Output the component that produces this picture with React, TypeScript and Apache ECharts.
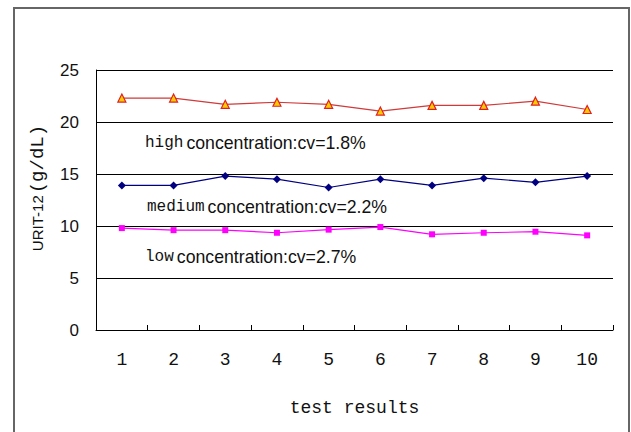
import React, { useEffect, useRef } from "react";
import * as echarts from "echarts";

const categories = ["1", "2", "3", "4", "5", "6", "7", "8", "9", "10"];
const highValues = [22.3, 22.3, 21.7, 21.9, 21.7, 21.05, 21.6, 21.6, 22.0, 21.2];
const mediumValues = [13.9, 13.9, 14.8, 14.5, 13.7, 14.5, 13.9, 14.6, 14.2, 14.8];
const lowValues = [9.8, 9.6, 9.6, 9.35, 9.65, 9.9, 9.2, 9.35, 9.45, 9.1];
const annotations = [
  { key: "high", text: "concentration:cv=1.8%" },
  { key: "medium", text: "concentration:cv=2.2%" },
  { key: "low", text: "concentration:cv=2.7%" },
];
const yAxisName = ["URIT-12", "(g/dL)"];
const xAxisName = "test results";

export default function App() {
  const ref = useRef<HTMLDivElement>(null);
  useEffect(() => {
    if (!ref.current) return;
    const chart = echarts.init(ref.current, null, { renderer: "svg" });
    const annPos = [
      { x: 145, y: 142.5 },
      { x: 147, y: 206.5 },
      { x: 145, y: 257 },
    ];
    const option: any = {
      animation: false,
      backgroundColor: "#ffffff",
      grid: { left: 96, right: 18, top: 70, bottom: 102 },
      xAxis: {
        type: "category",
        data: categories,
        boundaryGap: true,
        name: xAxisName,
        nameLocation: "middle",
        nameGap: 69,
        nameTextStyle: { fontFamily: "Liberation Mono", fontSize: 18, color: "#111" },
        axisLine: { lineStyle: { color: "#000", width: 1 } },
        axisTick: { show: true, inside: true, length: 5, lineStyle: { color: "#000" } },
        axisLabel: { fontFamily: "Liberation Mono", fontSize: 18, color: "#111", margin: 21 },
        splitLine: { show: false },
      },
      yAxis: {
        type: "value",
        min: 0,
        max: 25,
        interval: 5,
        axisLine: { show: true, lineStyle: { color: "#000", width: 1 } },
        axisTick: { show: false },
        axisLabel: { fontFamily: "Liberation Sans", fontSize: 17, color: "#111", margin: 17 },
        splitLine: { show: true, lineStyle: { color: "#000", width: 1 } },
      },
      graphic: [
        {
          type: "rect",
          shape: { x: 14, y: 8, width: 615, height: 460 },
          style: { fill: "none", stroke: "#666", lineWidth: 2 },
          silent: true,
        },
        {
          type: "text",
          x: 37.5,
          y: 188,
          rotation: Math.PI / 2,
          style: {
            text: `{a|${yAxisName[0]}}{b|${yAxisName[1]}}`,
            align: "center",
            verticalAlign: "middle",
            rich: {
              a: { fontFamily: "Liberation Sans", fontSize: 15, fill: "#111" },
              b: { fontFamily: "Liberation Mono", fontSize: 19, fill: "#111", padding: [0, 0, 0, 2] },
            },
          },
        },
        ...annotations.map((a, i) => ({
          type: "text",
          x: annPos[i].x,
          y: annPos[i].y,
          style: {
            text: `{a|${a.key}}{b|${a.text}}`,
            align: "left",
            verticalAlign: "middle",
            rich: {
              a: { fontFamily: "Liberation Mono", fontSize: 16, fill: "#111", padding: [0, 3, 0, 0] },
              b: { fontFamily: "Liberation Sans", fontSize: 17.7, fill: "#111" },
            },
          },
        })),
      ],
      series: [
        {
          name: "high",
          type: "line",
          data: highValues,
          symbol: "triangle",
          symbolSize: 8,
          lineStyle: { color: "#d03a3a", width: 1.2 },
          itemStyle: { color: "#ffcc00", borderColor: "#e02020", borderWidth: 1.2 },
        },
        {
          name: "medium",
          type: "line",
          data: mediumValues,
          symbol: "diamond",
          symbolSize: 8,
          lineStyle: { color: "#000080", width: 1.2 },
          itemStyle: { color: "#000080" },
        },
        {
          name: "low",
          type: "line",
          data: lowValues,
          symbol: "rect",
          symbolSize: 6,
          lineStyle: { color: "#ff00ff", width: 1.2 },
          itemStyle: { color: "#ff00ff" },
        },
      ],
    };
    chart.setOption(option);
    return () => chart.dispose();
  }, []);
  return (
    <div
      ref={ref}
      style={{ position: "fixed", left: 0, top: 0, width: 631, height: 432, background: "#fff" }}
    />
  );
}
